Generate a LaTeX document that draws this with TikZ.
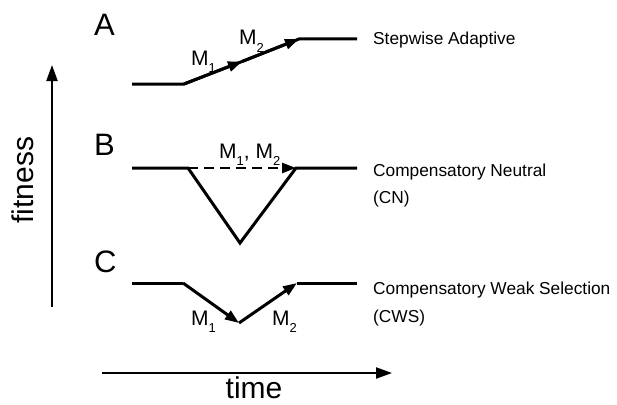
\documentclass[tikz,border=0pt]{standalone}
\usepackage{fontspec}
\setmainfont{Liberation Sans}
\usetikzlibrary{arrows.meta}
\newcommand\subsc[1]{\raisebox{-0.35em}{\fontsize{13}{13}\selectfont #1}}
\tikzset{
  curve/.style={line width=3pt, line join=miter},
  tip/.style={-{Triangle[length=14pt,width=10pt]}},
  axis/.style={line width=2.2pt, -{Triangle[length=16pt,width=11pt]}},
  panel/.style={font=\fontsize{31}{31}\selectfont, anchor=base west, inner sep=0pt},
  mlab/.style={font=\fontsize{21}{21}\selectfont, anchor=base west, inner sep=0pt},
  desc/.style={font=\fontsize{17.3}{17.3}\selectfont, anchor=base west, inner sep=0pt},
  axlab/.style={font=\fontsize{30}{30}\selectfont, anchor=base, inner sep=0pt}
}
\begin{document}
\begin{tikzpicture}[x=1pt,y=-1pt]
\useasboundingbox (0,0) rectangle (617,404);

% axes
\coordinate (fy0) at (52,307);
\coordinate (fy1) at (52,65);
\draw[axis] (fy0) -- (fy1);
\node[axlab, rotate=90] (fit) at (33,180) {fitness};
\coordinate (tx0) at (102,373);
\coordinate (tx1) at (392,373);
\draw[axis] (tx0) -- (tx1);
\node[axlab] (time) at (254,398) {time};

% panel labels
\node[panel] (A) at (94,35) {A};
\node[panel] (B) at (94,155) {B};
\node[panel] (C) at (94,272) {C};

% Panel A
\coordinate (a0) at (132,84);
\coordinate (a1) at (184,84);
\coordinate (am) at (242,61.5);
\coordinate (a2) at (299,39);
\coordinate (a3) at (357,39);
\draw[curve] (a0) -- (a1) -- (am);
\draw[curve] (am) -- (a2) -- (a3);
\draw[curve,tip] (a1) -- (am);
\draw[curve,tip] (am) -- (a2);
\node[mlab] (am1) at (191,65) {M\subsc{1}};
\node[mlab] (am2) at (239,45) {M\subsc{2}};
\node[desc] (da) at (373,45) {Stepwise Adaptive};

% Panel B
\coordinate (b0) at (132,168);
\coordinate (b1) at (188,168);
\coordinate (bv) at (240,243);
\coordinate (b2) at (296,168);
\coordinate (b3) at (357,168);
\draw[curve] (b0) -- (b1) -- (bv) -- (b2) -- (b3);
\draw[line width=2.4pt, dash pattern=on 10pt off 6pt, -{Triangle[length=14pt,width=10pt]}] (b1) -- (b2);
\node[mlab] (bm) at (219,158) {M\subsc{1}, M\subsc{2}};
\node[desc] (db) at (373,176) {Compensatory Neutral};
\node[desc] (db2) at (373,203) {(CN)};

% Panel C
\coordinate (c0) at (132,283);
\coordinate (c1) at (183,283);
\coordinate (cv) at (239,323);
\coordinate (c2) at (297,283);
\coordinate (c3) at (357,283);
\draw[curve] (c0) -- (c1);
\draw[curve] (c2) -- (c3);
\draw[curve,tip] (c1) -- (cv);
\draw[curve,tip] (cv) -- (c2);
\node[mlab] (cm1) at (191,325) {M\subsc{1}};
\node[mlab] (cm2) at (272,325) {M\subsc{2}};
\node[desc] (dc) at (373,294) {Compensatory Weak Selection};
\node[desc] (dc2) at (373,322) {(CWS)};
\end{tikzpicture}
\end{document}
